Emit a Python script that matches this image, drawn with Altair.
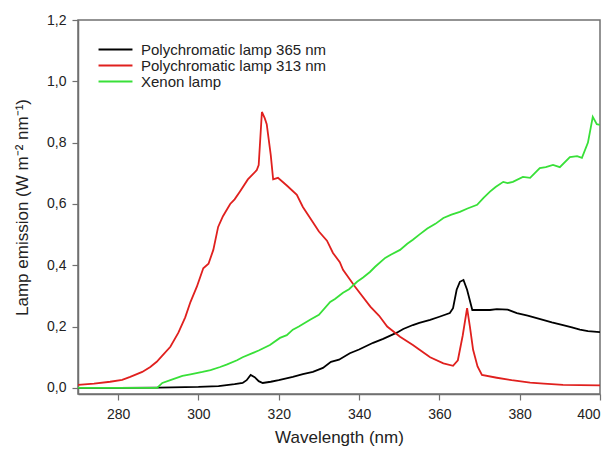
import altair as alt
import pandas as pd

series_names = ["Polychromatic lamp 365 nm", "Polychromatic lamp 313 nm", "Xenon lamp"]
series_colors = ["#000000", "#e0201e", "#38e038"]

x_ticks = [280, 300, 320, 340, 360, 380, 400]
y_ticks = [0.0, 0.2, 0.4, 0.6, 0.8, 1.0, 1.2]

black_nm = [270, 280, 290, 300, 305, 309, 311, 312, 313, 314, 315, 316, 318, 320, 323.5, 326,
            328.5, 331, 333, 335, 337.7, 340, 343.5, 346, 349.4, 351, 353.4, 355, 357.7, 360,
            362.6, 363.4, 364.3, 365.1, 366, 366.9, 368.2, 370, 372.6, 374.3, 377, 379.3, 382,
            385.8, 388, 390.8, 393, 395, 397, 400]
black_val = [0.0, 0.0, 0.001, 0.003, 0.006, 0.012, 0.016, 0.025, 0.042, 0.035, 0.022, 0.016,
             0.02, 0.025, 0.036, 0.045, 0.052, 0.065, 0.085, 0.092, 0.113, 0.125, 0.147, 0.16,
             0.18, 0.192, 0.205, 0.212, 0.222, 0.232, 0.244, 0.26, 0.32, 0.346, 0.352, 0.32,
             0.254, 0.254, 0.254, 0.257, 0.255, 0.244, 0.236, 0.222, 0.214, 0.205, 0.197, 0.19,
             0.185, 0.182]

red_nm = [270, 274, 278, 281, 283, 286, 288, 289.6, 291, 293, 295, 296.7, 298, 299.6, 301.2,
          302.5, 303.7, 304.9, 306.1, 307.9, 309, 310.3, 312.3, 314.5, 315, 315.8, 316.5, 317,
          318, 318.6, 319.8, 322, 324.5, 326, 328.5, 330, 332, 333.5, 335.2, 336, 339, 342.8,
          345, 347, 350.2, 353.4, 355.5, 357.7, 361, 363.4, 364.6, 365.8, 366.9, 367.6, 368.4,
          369.5, 370.6, 374.3, 378, 382.6, 386, 390.8, 395, 400]
red_val = [0.010, 0.014, 0.020, 0.026, 0.036, 0.052, 0.068, 0.085, 0.105, 0.134, 0.18, 0.23,
           0.28, 0.33, 0.39, 0.405, 0.45, 0.525, 0.56, 0.60, 0.615, 0.64, 0.68, 0.71, 0.727,
           0.90, 0.88, 0.86, 0.76, 0.68, 0.685, 0.66, 0.63, 0.59, 0.54, 0.51, 0.48, 0.44, 0.41,
           0.385, 0.33, 0.265, 0.235, 0.20, 0.167, 0.14, 0.12, 0.10, 0.08, 0.072, 0.09, 0.17,
           0.26, 0.2, 0.124, 0.07, 0.042, 0.033, 0.025, 0.017, 0.014, 0.01, 0.009, 0.008]

green_nm = [270, 280, 289.7, 291, 293, 296, 298, 301, 303, 305.4, 307, 309.6, 311, 313.6, 315,
            317.8, 320.3, 322, 323.5, 325, 327.8, 330, 332.8, 334, 336, 337.5, 339.5, 341,
            342.7, 344, 346.5, 348, 350.2, 352, 353.4, 355, 357, 359, 361, 363, 365.1, 367,
            369.4, 371, 372.6, 374, 375.9, 377, 378.3, 380.8, 382.6, 385, 386.5, 388.3, 390,
            392.5, 394.3, 395.5, 397, 398.2, 399.2, 400]
green_val = [0, 0, 0, 0.016, 0.025, 0.039, 0.044, 0.052, 0.058, 0.068, 0.076, 0.09, 0.1, 0.114,
             0.122, 0.14, 0.163, 0.172, 0.19, 0.2, 0.222, 0.238, 0.28, 0.29, 0.31, 0.322, 0.346,
             0.36, 0.378, 0.395, 0.424, 0.435, 0.45, 0.47, 0.483, 0.5, 0.52, 0.535, 0.554, 0.565,
             0.574, 0.585, 0.597, 0.62, 0.64, 0.655, 0.672, 0.668, 0.672, 0.688, 0.685, 0.717,
             0.72, 0.727, 0.72, 0.753, 0.756, 0.75, 0.80, 0.884, 0.86, 0.858]

rows = []
for name, xs, ys in zip(series_names, [black_nm, red_nm, green_nm], [black_val, red_val, green_val]):
    for x, y in zip(xs, ys):
        rows.append({"wl": x, "val": y, "lamp": name})
df = pd.DataFrame(rows)

FONT = "Liberation Sans"
TXT = "#222222"
AXC = "#707070"

chart = alt.Chart(df).mark_line(strokeWidth=1.8, clip=True).encode(
    x=alt.X("wl:Q",
            scale=alt.Scale(domain=[270, 400], nice=False, zero=False),
            axis=alt.Axis(title="Wavelength (nm)", values=x_ticks, grid=False,
                          tickSize=6, labelPadding=7, titlePadding=8,
                          labelFontSize=14, titleFontSize=17, titleFontWeight="normal")),
    y=alt.Y("val:Q",
            scale=alt.Scale(domain=[-0.02, 1.2], nice=False, zero=False),
            axis=alt.Axis(title="Lamp emission (W m⁻² nm⁻¹)", values=y_ticks, grid=False,
                          tickSize=6, labelPadding=6, titlePadding=15,
                          labelExpr="replace(format(datum.value, '.1f'), '.', ',')",
                          labelFontSize=14, titleFontSize=17, titleFontWeight="normal")),
    color=alt.Color("lamp:N",
                    scale=alt.Scale(domain=series_names, range=series_colors),
                    legend=alt.Legend(title=None, orient="none", legendX=30, legendY=22,
                                      symbolType="M-3,0H3", symbolSize=128,
                                      symbolStrokeWidth=1.8, labelOffset=18,
                                      labelFontSize=15, padding=0, rowPadding=0,
                                      labelLimit=0,
                                      labelFont=FONT, labelColor=TXT)),
    order="wl:Q",
).properties(
    width=522, height=374,
    autosize=alt.AutoSizeParams(type="none"),
    padding={"left": 70, "top": 12, "right": 5, "bottom": 52},
).configure_view(
    stroke=AXC, strokeWidth=1.5
).configure_axis(
    labelFont=FONT, titleFont=FONT, labelColor=TXT, titleColor=TXT,
    domainColor=AXC, tickColor=AXC, domainWidth=1.5, tickWidth=1.2,
)

chart.save("out.html", embed_options={"renderer": "svg", "actions": False})
